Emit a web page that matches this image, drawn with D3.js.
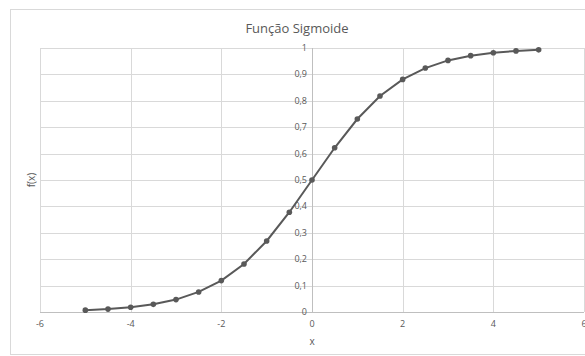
<!DOCTYPE html>
<html>
<head>
<meta charset="utf-8">
<script src="https://cdn.jsdelivr.net/npm/d3@7"></script>
<style>
  body { margin: 0; background: #fff; }
  text { font-family: "Open Sans", "Noto Sans", sans-serif; fill: #595959; }
</style>
</head>
<body>
<svg id="chart"></svg>
<script>
var width = 585;
var height = 356;

// pontos da curva
var xValues = [-5, -4.5, -4, -3.5, -3, -2.5, -2, -1.5, -1, -0.5, 0, 0.5, 1, 1.5, 2, 2.5, 3, 3.5, 4, 4.5, 5];
var yValues = [0.007, 0.011, 0.018, 0.029, 0.047, 0.076, 0.119, 0.182, 0.269, 0.378, 0.5,
               0.622, 0.731, 0.818, 0.881, 0.924, 0.953, 0.971, 0.982, 0.989, 0.993];
var xTicks = [-6, -4, -2, 0, 2, 4, 6];
var yTicks = [0, 0.1, 0.2, 0.3, 0.4, 0.5, 0.6, 0.7, 0.8, 0.9, 1];

var svg = d3.select("#chart")
    .attr("width", width)
    .attr("height", height);

// moldura do grafico
svg.append("rect")
    .attr("x", 10.5).attr("y", 9.5)
    .attr("width", 600).attr("height", 345)
    .attr("fill", "#fff")
    .attr("stroke", "#d9d9d9");

var x = d3.scaleLinear().domain([-6, 6]).range([40, 584]);
var y = d3.scaleLinear().domain([0, 1]).range([312, 48]);

var grid = svg.append("g");
grid.selectAll(".hg").data(yTicks).enter().append("line")
    .attr("x1", x(-6)).attr("x2", x(6))
    .attr("y1", function(d){ return Math.round(y(d)) + 0.5; })
    .attr("y2", function(d){ return Math.round(y(d)) + 0.5; })
    .attr("stroke", "#d9d9d9");
grid.selectAll(".vg").data(xTicks).enter().append("line")
    .attr("y1", y(0)).attr("y2", y(1))
    .attr("x1", function(d){ return Math.round(x(d)) + 0.5; })
    .attr("x2", function(d){ return Math.round(x(d)) + 0.5; })
    .attr("stroke", "#d9d9d9");

// eixos
svg.append("line")
    .attr("x1", x(-6)).attr("x2", x(6))
    .attr("y1", Math.round(y(0)) + 0.5).attr("y2", Math.round(y(0)) + 0.5)
    .attr("stroke", "#bfbfbf");
svg.append("line")
    .attr("y1", y(0)).attr("y2", y(1))
    .attr("x1", Math.round(x(0)) + 0.5).attr("x2", Math.round(x(0)) + 0.5)
    .attr("stroke", "#bfbfbf");

var fmt = function(d){ return d3.format(".1~f")(d).replace(".", ","); };

svg.selectAll(".yl").data(yTicks).enter().append("text")
    .attr("x", x(0) - 5)
    .attr("y", function(d){ return y(d) + 3; })
    .attr("text-anchor", "end")
    .style("font-size", "9px")
    .text(fmt);

svg.selectAll(".xl").data(xTicks).enter().append("text")
    .attr("x", function(d){ return x(d); })
    .attr("y", y(0) + 15)
    .attr("text-anchor", "middle")
    .style("font-size", "9px")
    .text(function(d){ return d; });

svg.append("text")
    .attr("x", 297).attr("y", 33)
    .attr("text-anchor", "middle")
    .style("font-size", "13px")
    .text("Função Sigmoide");

svg.append("text")
    .attr("x", x(0)).attr("y", 345)
    .attr("text-anchor", "middle")
    .style("font-size", "10px")
    .text("x");

svg.append("text")
    .attr("transform", "translate(35," + y(0.5) + ") rotate(-90)")
    .attr("text-anchor", "middle")
    .style("font-size", "10px")
    .text("f(x)");

var pts = d3.zip(xValues, yValues);
var line = d3.line()
    .x(function(d){ return x(d[0]); })
    .y(function(d){ return y(d[1]); });

svg.append("path")
    .datum(pts)
    .attr("d", line)
    .attr("fill", "none")
    .attr("stroke", "#595959")
    .attr("stroke-width", 2);

svg.selectAll(".pt").data(pts).enter().append("circle")
    .attr("cx", function(d){ return x(d[0]); })
    .attr("cy", function(d){ return y(d[1]); })
    .attr("r", 2.8)
    .attr("fill", "#595959");
</script>
</body>
</html>
